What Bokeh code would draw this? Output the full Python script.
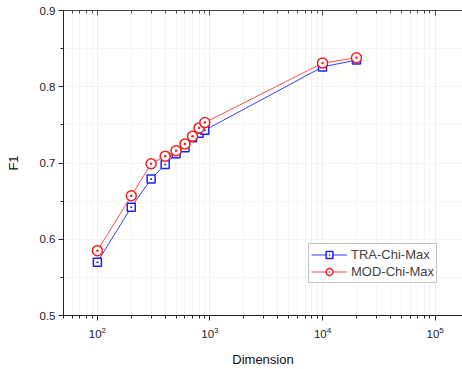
from bokeh.plotting import figure
from bokeh.models import Range1d, LogAxis, LogTicker, Legend, LegendItem, FixedTicker
from bokeh.embed import file_html
from bokeh.resources import INLINE

dimension = [100, 200, 300, 400, 500, 600, 700, 800, 900, 10000, 20000]
tra_chi_max = [0.570, 0.642, 0.679, 0.698, 0.712, 0.720, 0.733, 0.739, 0.743, 0.826, 0.835]
mod_chi_max = [0.585, 0.657, 0.699, 0.709, 0.716, 0.725, 0.735, 0.746, 0.753, 0.831, 0.838]
y_ticks = [0.5, 0.6, 0.7, 0.8, 0.9]

FONT = "Liberation Sans"

p = figure(width=462, height=369, x_axis_type="log", output_backend="svg",
           toolbar_location=None, x_range=Range1d(50, 1.75e5), y_range=Range1d(0.5, 0.9),
           min_border_left=63, min_border_right=0, min_border_top=10, min_border_bottom=53)
p.outline_line_color = None

# axes
xa = p.xaxis[0]
xa.ticker = LogTicker(num_minor_ticks=10)
xa.axis_label = "Dimension"
ya = p.yaxis[0]
ya.ticker = FixedTicker(ticks=y_ticks, minor_ticks=[0.55, 0.65, 0.75, 0.85])
ya.axis_label = "F1"
ya.formatter.use_scientific = False
for ax in (xa, ya):
    ax.axis_line_color = "#222222"
    ax.major_tick_line_color = "#222222"
    ax.minor_tick_line_color = "#222222"
    ax.major_tick_out = 5
    ax.major_tick_in = 0
    ax.minor_tick_out = 3
    ax.minor_tick_in = 0
    ax.major_label_text_font = FONT
    ax.major_label_text_font_size = "11.5px"
    ax.major_label_text_color = "#222222"
    ax.axis_label_text_font = FONT
    ax.axis_label_text_font_size = "13px"
    ax.axis_label_text_font_style = "normal"
    ax.axis_label_text_color = "#111111"
ya.major_label_standoff = 3
xa.major_label_standoff = 6
xa.axis_label_standoff = 11
ya.axis_label_standoff = 16

top = LogAxis(ticker=LogTicker(num_minor_ticks=10), major_label_text_font_size="0px",
              major_tick_in=5, major_tick_out=0, minor_tick_in=3, minor_tick_out=0,
              axis_line_color="#444444", major_tick_line_color="#444444",
              minor_tick_line_color="#444444")
top.major_label_text_alpha = 0
p.add_layout(top, "above")

# grids
p.xgrid.grid_line_color = "#eeeeee"
p.xgrid.minor_grid_line_color = "#f3f3f3"
p.ygrid.grid_line_color = "#f3f3f3"
p.ygrid.minor_grid_line_color = "#f5f5f5"
p.xgrid.ticker = xa.ticker
p.ygrid.ticker = ya.ticker

# data
l1 = p.line(dimension, tra_chi_max, line_color="#3a3aff", line_width=1)
m1 = p.scatter(dimension, tra_chi_max, marker="square_dot", size=8, line_color="#2020ee",
               fill_color="white", line_width=1.5)
l2 = p.line(dimension, mod_chi_max, line_color="#ff4a4a", line_width=1)
m2 = p.scatter(dimension, mod_chi_max, marker="circle_dot", size=10, line_color="#ee2020",
               fill_color="white", line_width=1.5)

legend = Legend(items=[LegendItem(label="TRA-Chi-Max", renderers=[l1, m1]),
                       LegendItem(label="MOD-Chi-Max", renderers=[l2, m2])],
                location=(245, 32), label_text_font=FONT, label_text_font_size="13px",
                border_line_color="#888888", background_fill_alpha=1,
                glyph_width=36, glyph_height=17, label_standoff=4, spacing=0,
                padding=2, margin=0, label_height=17)
p.add_layout(legend, "center")

open("out.html", "w").write(file_html(p, INLINE))
